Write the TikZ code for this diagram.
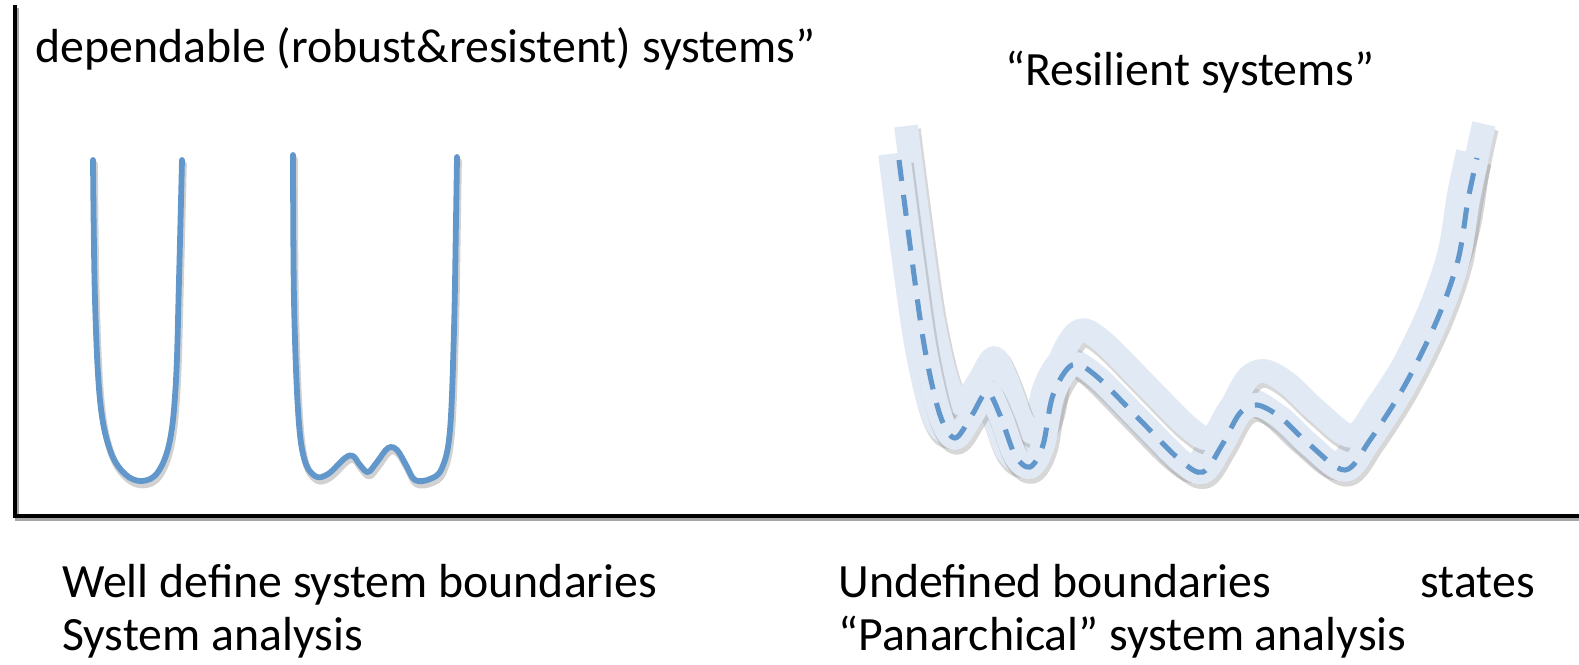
\documentclass[tikz,border=0pt]{standalone}
\usepackage{fontspec}
\setmainfont{Carlito}
\usetikzlibrary{positioning}

\definecolor{curveblue}{RGB}{97,151,203}
\definecolor{bandfill}{RGB}{225,233,244}

\tikzstyle{textlabel} = [anchor=base west, inner sep=0pt, font=\fontsize{27.2}{32}\selectfont]
\tikzstyle{axis} = [line width=2.3pt, black]
\tikzstyle{curve} = [line width=3.3pt, curveblue, line cap=round, line join=round]
\tikzstyle{curveshade} = [line width=3.8pt, black!40, opacity=0.45, line cap=round, line join=round]
\tikzstyle{band} = [line width=13.5pt, bandfill, line join=round]
\tikzstyle{bandshade} = [line width=14.5pt, black!45, opacity=0.35, line join=round]
\tikzstyle{dashline} = [line width=2.9pt, curveblue, dash pattern=on 12pt off 8pt]

% the W shaped landscape, in pixels
\def\wcurve{plot[smooth, tension=0.55] coordinates {(899,160) (912,260) (925,350) (940,415) (955,438) (972,415) (987,392) (1000,415) (1015,455) (1030,467) (1043,445) (1053,395) (1072,365) (1095,375) (1140,420) (1180,460) (1203,472) (1222,445) (1240,413) (1257,405) (1280,417) (1310,445) (1345,470) (1370,440) (1405,385) (1437,320) (1458,260) (1468,200) (1477,158)}}

\begin{document}
\begin{tikzpicture}[x=0.02cm, y=-0.02cm]
	\useasboundingbox (0,0) rectangle (1579,664);
	% Place nodes
	\node [textlabel] (Dependable) at (35,62) {dependable (robust\&resistent) systems”};
	\node [textlabel] (Resilient) at (1005,85) {“Resilient systems”};
	\node [textlabel] (WellDefined) at (62,597) {Well define system boundaries};
	\node [textlabel] (SystemAnalysis) at (62,650) {System analysis};
	\node [textlabel] (Undefined) at (838,597) {Undefined boundaries};
	\node [textlabel, anchor=base east] (States) at (1535,597) {states};
	\node [textlabel] (Panarchical) at (838,650) {“Panarchical” system analysis};
	% Draw axes
	\draw [axis, black!35] (17,8) -- (17,519) -- (1579,519);
	\draw [axis] (15,5) -- (15,516) -- (1579,516);
	% Draw single and double well
	\draw [curveshade, shift={(1.5,4)}] plot[smooth, tension=0.6] coordinates {(93,160) (95,300) (100,400) (110,450) (125,474) (142,481) (158,472) (170,440) (176,380) (179,280) (182,160)};
	\draw [curve] plot[smooth, tension=0.6] coordinates {(93,160) (95,300) (100,400) (110,450) (125,474) (142,481) (158,472) (170,440) (176,380) (179,280) (182,160)};
	\draw [curveshade, shift={(1.5,4)}] plot[smooth, tension=0.6] coordinates {(293,155) (294,300) (298,410) (304,458) (315,476) (328,474) (345,458) (353,456) (360,465) (368,472) (377,462) (388,448) (397,450) (406,465) (415,480) (430,479) (442,468) (450,430) (454,330) (456,220) (457,157)};
	\draw [curve] plot[smooth, tension=0.6] coordinates {(293,155) (294,300) (298,410) (304,458) (315,476) (328,474) (345,458) (353,456) (360,465) (368,472) (377,462) (388,448) (397,450) (406,465) (415,480) (430,479) (442,468) (450,430) (454,330) (456,220) (457,157)};
	% Draw resilient landscape
	\begin{scope}[shift={(-9,-6)}]
		\draw [bandshade, shift={(2,4)}] \wcurve;
		\draw [band] \wcurve;
	\end{scope}
	\begin{scope}[shift={(7,-34)}]
		\draw [bandshade, shift={(2,4)}] \wcurve;
		\draw [band] \wcurve;
	\end{scope}
	\draw [bandshade, shift={(2,4)}] \wcurve;
	\draw [band] \wcurve;
	\draw [dashline] \wcurve;
\end{tikzpicture}
\end{document}
